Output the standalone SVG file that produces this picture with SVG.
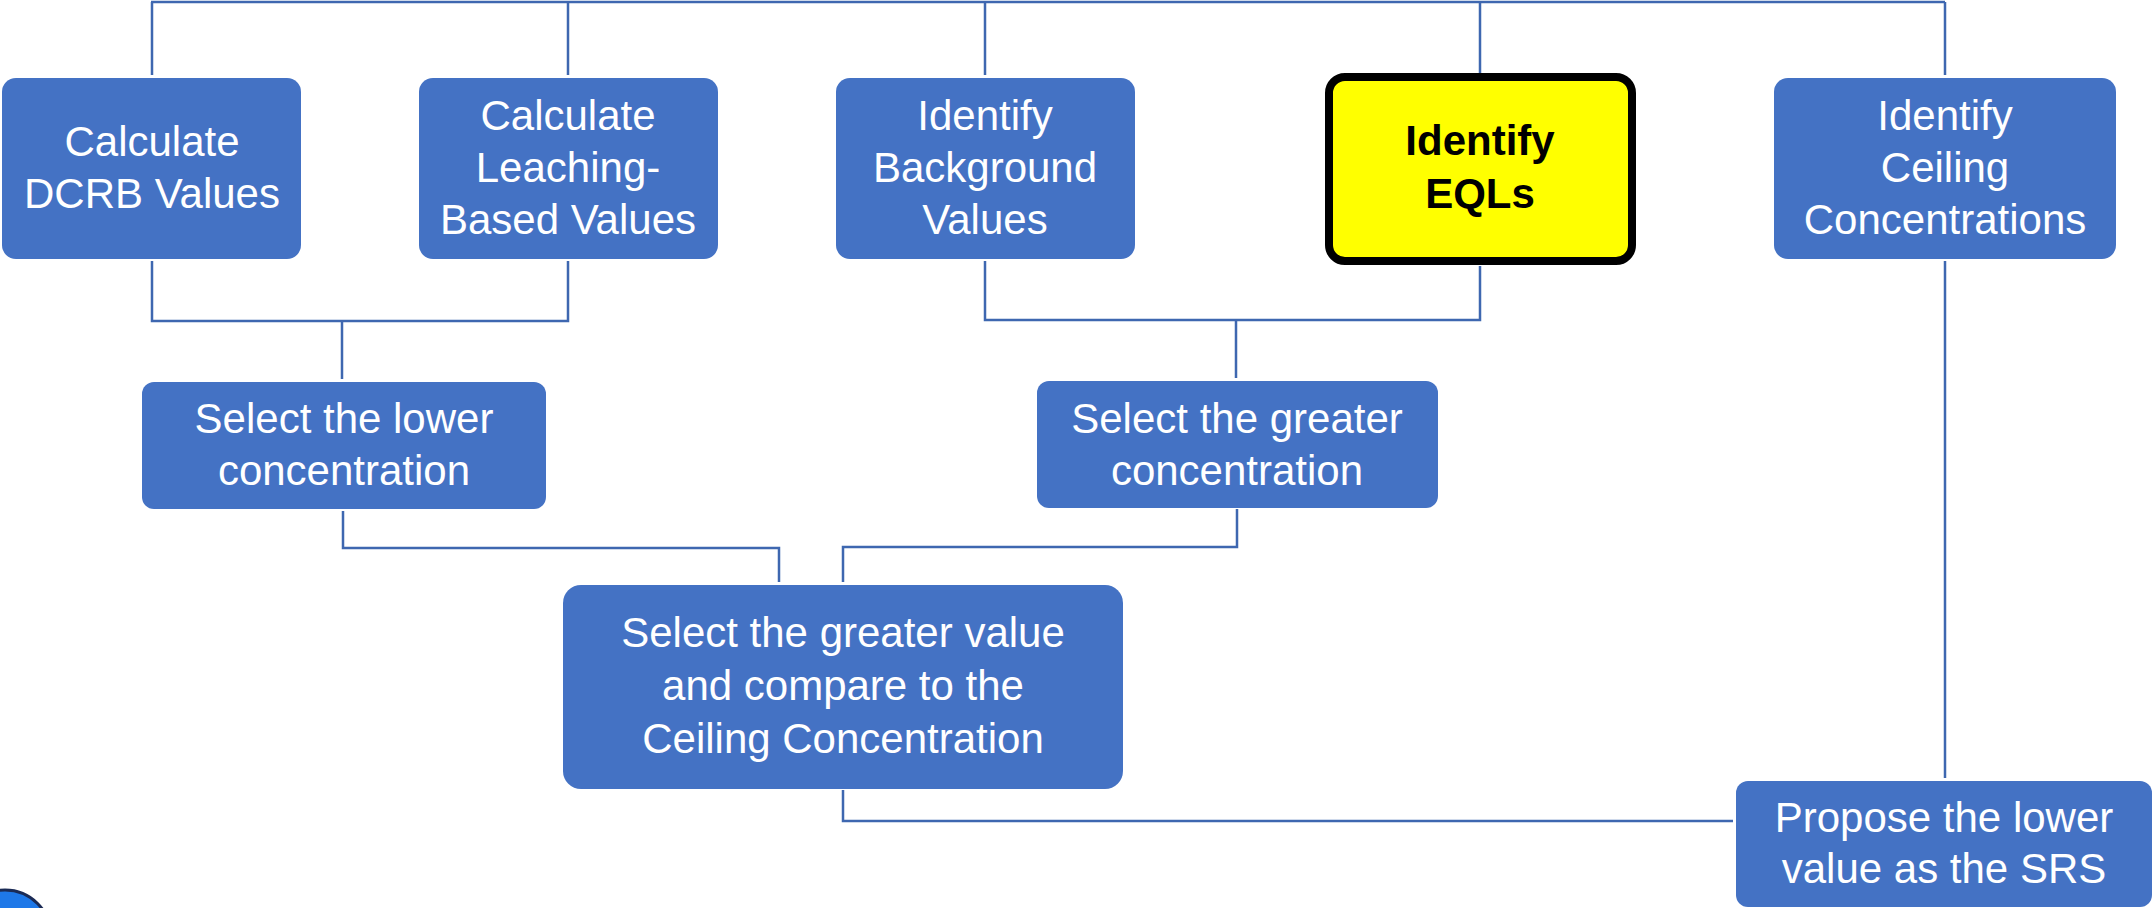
<svg xmlns="http://www.w3.org/2000/svg" width="2154" height="908" viewBox="0 0 2154 908">
<style>
.box{fill:#4472C4;}
.t{font-family:"Liberation Sans",Arial,sans-serif;font-size:42px;fill:#FFFFFF;text-anchor:middle;}
.tb{font-family:"Liberation Sans",Arial,sans-serif;font-size:42px;font-weight:bold;fill:#000000;text-anchor:middle;}
.c{fill:none;stroke:#3E67B0;stroke-width:2.5;}
</style>
<rect x="0" y="0" width="2154" height="908" fill="#FFFFFF"/>
<g id="connectors">
<path class="c" d="M151 2 H1945 M152 2 V75 M568 2 V75 M985 2 V75 M1480 2 V73 M1945 2 V75"/>
<path class="c" d="M152 261 V321 H568 V261 M342 321 V379"/>
<path class="c" d="M985 261 V320 H1480 V266 M1236 320 V378"/>
<path class="c" d="M343 511 V548 H779 V582"/>
<path class="c" d="M843 582 V547 H1237 V509"/>
<path class="c" d="M843 790 V821 H1733"/>
<path class="c" d="M1945 261 V778"/>
</g>
<g id="n1">
<rect class="box" x="2" y="78" width="299" height="181" rx="14"/>
<text class="t" x="152" y="156">Calculate</text>
<text class="t" x="152" y="208">DCRB Values</text>
</g>
<g id="n2">
<rect class="box" x="419" y="78" width="299" height="181" rx="14"/>
<text class="t" x="568" y="130">Calculate</text>
<text class="t" x="568" y="182">Leaching-</text>
<text class="t" x="568" y="234">Based Values</text>
</g>
<g id="n3">
<rect class="box" x="836" y="78" width="299" height="181" rx="14"/>
<text class="t" x="985" y="130">Identify</text>
<text class="t" x="985" y="182">Background</text>
<text class="t" x="985" y="234">Values</text>
</g>
<g id="n4">
<rect x="1329" y="77" width="303" height="184" rx="16" fill="#FFFF00" stroke="#000000" stroke-width="8"/>
<text class="tb" x="1480" y="155">Identify</text>
<text class="tb" x="1480" y="208">EQLs</text>
</g>
<g id="n5">
<rect class="box" x="1774" y="78" width="342" height="181" rx="14"/>
<text class="t" x="1945" y="130">Identify</text>
<text class="t" x="1945" y="182">Ceiling</text>
<text class="t" x="1945" y="234">Concentrations</text>
</g>
<g id="n6">
<rect class="box" x="142" y="382" width="404" height="127" rx="12"/>
<text class="t" x="344" y="433">Select the lower</text>
<text class="t" x="344" y="485">concentration</text>
</g>
<g id="n7">
<rect class="box" x="1037" y="381" width="401" height="127" rx="12"/>
<text class="t" x="1237" y="433">Select the greater</text>
<text class="t" x="1237" y="485">concentration</text>
</g>
<g id="n8">
<rect class="box" x="563" y="585" width="560" height="204" rx="18"/>
<text class="t" x="843" y="647">Select the greater value</text>
<text class="t" x="843" y="700">and compare to the</text>
<text class="t" x="843" y="753">Ceiling Concentration</text>
</g>
<g id="n9">
<rect class="box" x="1736" y="781" width="416" height="126" rx="12"/>
<text class="t" x="1944" y="832">Propose the lower</text>
<text class="t" x="1944" y="883">value as the SRS</text>
</g>
<g id="logo">
<circle cx="5" cy="936" r="46" fill="#1E78E8" stroke="#1B2B55" stroke-width="3"/>
</g>
</svg>
